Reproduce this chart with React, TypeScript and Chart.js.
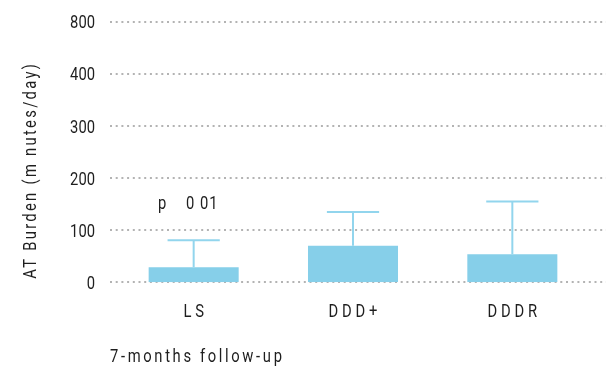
import React, { useEffect, useRef } from 'react';
import { Chart, registerables } from 'chart.js';

Chart.register(...registerables);

// Pacing modes and their mean AT burden with the upper end of the spread
const groups = ['LS', 'DDD+', 'DDDR'];
const burden = [29, 70, 54];
const burdenUpper = [81, 135, 155];

// The axis is drawn with even steps; the top step is labelled 800
const yTickLabels = ['0', '100', '200', '300', '400', '800'];

const yTitle = 'AT Burden (m nutes/day)';
const pLabel = 'p    0 01';
const footnote = '7-months follow-up';

const FONT = "Roboto, 'Liberation Sans', sans-serif";
const SQUEEZE = 0.82; // horizontal condensing of all text
const TEXT = '#1e1e1e';
const BAR = '#86cfe9';
const WHISKER = '#92d5ed';
const GRID = '#b3b3b3';

// Condensed, tracked text drawn straight on the canvas
function drawText(
  ctx: CanvasRenderingContext2D,
  text: string,
  x: number,
  y: number,
  align: 'left' | 'center' | 'right',
  spacing: number
) {
  ctx.save();
  ctx.translate(x, y);
  ctx.scale(SQUEEZE, 1);
  ctx.font = `18px ${FONT}`;
  ctx.fillStyle = TEXT;
  ctx.textAlign = 'left';
  ctx.textBaseline = 'alphabetic';
  (ctx as any).letterSpacing = '0px';
  const sp = spacing / SQUEEZE;
  const w = ctx.measureText(text).width + sp * (text.length - 1);
  (ctx as any).letterSpacing = `${sp}px`;
  const ox = align === 'center' ? -w / 2 : align === 'right' ? -w : 0;
  ctx.fillText(text, ox, 0);
  ctx.restore();
}

const overlay = {
  id: 'overlay',
  beforeDatasetsDraw(chart: any) {
    const { ctx, scales, chartArea } = chart;
    const y = scales.y;
    ctx.save();
    ctx.strokeStyle = GRID;
    ctx.lineWidth = 2;
    ctx.setLineDash([2, 3.7]);
    y.ticks.forEach((t: any) => {
      const py = Math.round(y.getPixelForValue(t.value));
      ctx.beginPath();
      ctx.moveTo(chartArea.left - 4, py);
      ctx.lineTo(chart.width, py);
      ctx.stroke();
    });
    ctx.restore();

    // tick labels
    y.ticks.forEach((t: any, i: number) => {
      drawText(ctx, yTickLabels[i], chartArea.left - 19, y.getPixelForValue(t.value) + 6.4, 'right', 0);
    });
  },
  afterDatasetsDraw(chart: any) {
    const { ctx, scales, chartArea } = chart;
    const x = scales.x;
    const y = scales.y;
    const meta = chart.getDatasetMeta(0);

    // upper whiskers
    ctx.save();
    ctx.strokeStyle = WHISKER;
    ctx.lineWidth = 2;
    burden.forEach((v, i) => {
      const cx = x.getPixelForValue(i);
      const top = y.getPixelForValue(v);
      const hi = y.getPixelForValue(burdenUpper[i]);
      const half = meta.data[i].width * 0.29;
      ctx.beginPath();
      ctx.moveTo(cx, top);
      ctx.lineTo(cx, hi);
      ctx.moveTo(cx - half, hi);
      ctx.lineTo(cx + half, hi);
      ctx.stroke();
    });
    ctx.restore();

    // category labels
    groups.forEach((g, i) => {
      drawText(ctx, g, x.getPixelForValue(i), chartArea.bottom + 35, 'center', 3.8);
    });

    // footnote
    drawText(ctx, footnote, chartArea.left - 4, 362, 'left', 2.65);

    // significance note
    drawText(ctx, pLabel, chartArea.left + 44, 209, 'left', 1);

    // y-axis title
    ctx.save();
    ctx.translate(36, 171.5);
    ctx.rotate(-Math.PI / 2);
    drawText(ctx, yTitle, 0, 0, 'center', 2.3);
    ctx.restore();
  },
};

export default function App() {
  const ref = useRef<HTMLCanvasElement>(null);

  useEffect(() => {
    document.body.style.margin = '0';
    const chart = new Chart(ref.current as HTMLCanvasElement, {
      type: 'bar',
      data: {
        labels: groups,
        datasets: [
          {
            data: burden,
            backgroundColor: BAR,
            borderWidth: 0,
            barPercentage: 0.565,
            categoryPercentage: 1,
          },
        ],
      },
      options: {
        animation: false,
        responsive: true,
        maintainAspectRatio: false,
        layout: { padding: { top: 22, right: 14, bottom: 84.7, left: 0 } },
        plugins: { legend: { display: false }, tooltip: { enabled: false } },
        scales: {
          x: { display: false, offset: true },
          y: {
            min: 0,
            max: 500,
            afterFit: (s: any) => {
              s.width = 114;
            },
            ticks: { stepSize: 100, display: false },
            grid: { display: false, drawTicks: false },
            border: { display: false },
          },
        },
      },
      plugins: [overlay],
    });
    return () => chart.destroy();
  }, []);

  return (
    <div style={{ position: 'relative', width: '606px', height: '367px' }}>
      <canvas ref={ref} />
    </div>
  );
}
